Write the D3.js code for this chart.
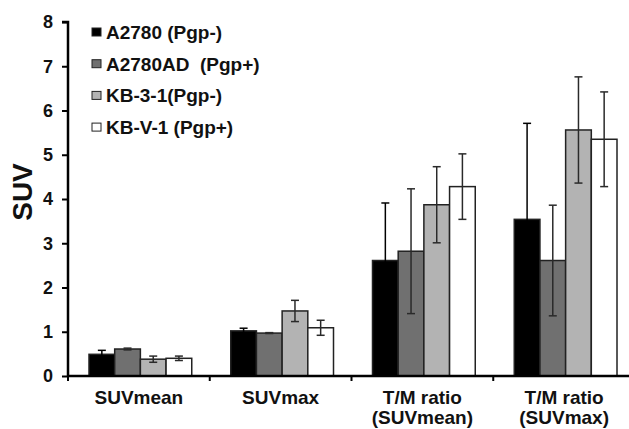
<!DOCTYPE html>
<html>
<head>
<meta charset="utf-8">
<script src="https://cdn.jsdelivr.net/npm/d3@7"></script>
<style>
html,body{margin:0;padding:0;background:#fff;}
svg{display:block;}
text{font-family:"Liberation Sans",Arial,sans-serif;font-weight:bold;fill:#111;}
</style>
</head>
<body>
<svg id="chart" width="629" height="429"></svg>
<script>
const categories = [["SUVmean"], ["SUVmax"], ["T/M ratio", "(SUVmean)"], ["T/M ratio", "(SUVmax)"]];
const seriesNames = ["A2780 (Pgp-)", "A2780AD  (Pgp+)", "KB-3-1(Pgp-)", "KB-V-1 (Pgp+)"];
const seriesColors = ["#000000", "#707070", "#b3b3b3", "#ffffff"];
const A2780 = [0.49, 1.02, 2.61, 3.54];
const A2780err = [0.09, 0.06, 1.30, 2.17];
const A2780AD = [0.61, 0.97, 2.82, 2.61];
const A2780ADerr = [0.02, 0.01, 1.41, 1.25];
const KB31 = [0.38, 1.47, 3.87, 5.56];
const KB31err = [0.07, 0.24, 0.86, 1.20];
const KBV1 = [0.40, 1.09, 4.28, 5.35];
const KBV1err = [0.05, 0.17, 0.74, 1.07];
const yTicks = [0, 1, 2, 3, 4, 5, 6, 7, 8];

const values = [A2780, A2780AD, KB31, KBV1];
const errors = [A2780err, A2780ADerr, KB31err, KBV1err];

const svg = d3.select("#chart");
const x0 = 68, x1 = 635, yTop = 22, yBot = 376;

const x = d3.scaleBand().domain(d3.range(categories.length)).range([x0, x1]).paddingInner(0).paddingOuter(0);
const xs = d3.scaleBand().domain(d3.range(seriesNames.length)).range([21, x.bandwidth() - 18]).padding(0);
const y = d3.scaleLinear().domain([0, 8]).range([yBot, yTop]);

// bars
const g = svg.append("g");
values.forEach((vals, si) => {
  vals.forEach((v, ci) => {
    const bx = x(ci) + xs(si);
    g.append("rect")
      .attr("x", bx).attr("y", y(v))
      .attr("width", xs.bandwidth()).attr("height", y(0) - y(v))
      .attr("fill", seriesColors[si]).attr("stroke", "#222").attr("stroke-width", 1.5);
  });
});
// error bars
values.forEach((vals, si) => {
  vals.forEach((v, ci) => {
    const cx = x(ci) + xs(si) + xs.bandwidth() / 2;
    const e = errors[si][ci];
    const lo = y(v - e), hi = y(v + e);
    const col = si === 0 ? "#000" : "#2a2a2a";
    g.append("line").attr("x1", cx).attr("x2", cx).attr("y1", lo).attr("y2", hi)
      .attr("stroke", col).attr("stroke-width", 1.5);
    [lo, hi].forEach(yy => g.append("line").attr("x1", cx - 4).attr("x2", cx + 4)
      .attr("y1", yy).attr("y2", yy).attr("stroke", col).attr("stroke-width", 1.5));
  });
});

// y axis
const yAxis = d3.axisLeft(y).tickValues(yTicks).tickSize(6).tickPadding(9).tickFormat(d3.format("d"));
const ya = svg.append("g").attr("transform", `translate(${x0},0)`).call(yAxis);
ya.select(".domain").attr("stroke", "#000").attr("stroke-width", 2.5).attr("d", `M-6,${yTop}H0V${yBot}`);
ya.selectAll(".tick line").attr("stroke", "#000").attr("stroke-width", 2);
ya.selectAll(".tick text").style("font-size", "18px").style("font-family", "Liberation Sans, Arial, sans-serif").style("font-weight", "bold").attr("fill", "#111");

// x axis
const xa = svg.append("g").attr("transform", `translate(0,${yBot})`);
xa.append("line").attr("x1", x0 - 1).attr("x2", 629).attr("y1", 0).attr("y2", 0).attr("stroke", "#000").attr("stroke-width", 2.5);
const bounds = d3.range(categories.length + 1).map(i => i < categories.length ? x(i) : x1);
bounds.forEach(b => xa.append("line").attr("x1", b).attr("x2", b).attr("y1", 0).attr("y2", 5).attr("stroke", "#000").attr("stroke-width", 2));

categories.forEach((lines, ci) => {
  lines.forEach((ln, li) => {
    svg.append("text").attr("x", x(ci) + x.bandwidth() / 2).attr("y", 404 + li * 20)
      .attr("text-anchor", "middle").style("font-size", "19px").text(ln);
  });
});

// y title
svg.append("text").attr("transform", "translate(32,192) rotate(-90)")
  .attr("text-anchor", "middle").style("font-size", "28px").text("SUV");

// legend
const leg = svg.append("g");
seriesNames.forEach((n, i) => {
  const base = 39 + i * 31.7;
  leg.append("rect").attr("x", 92).attr("y", base - 11).attr("width", 9).attr("height", 8)
    .attr("fill", seriesColors[i]).attr("stroke", "#222").attr("stroke-width", 1);
  leg.append("text").attr("x", 106).attr("y", base).style("font-size", "19px")
    .style("white-space", "pre").text(n);
});
</script>
</body>
</html>
